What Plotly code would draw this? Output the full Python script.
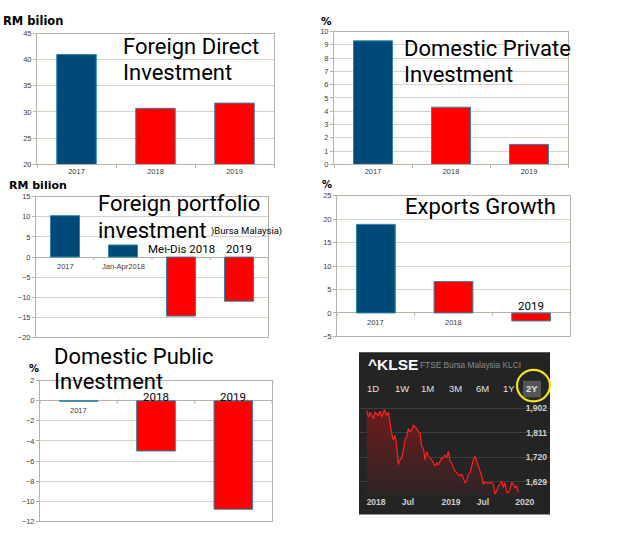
import plotly.graph_objects as go

W, H = 621, 545

# ---------------- data ----------------
fdi_years = ["2017", "2018", "2019"]
fdi_values = [41.0, 30.7, 31.7]

dpi_years = ["2017", "2018", "2019"]
dpi_values = [9.3, 4.3, 1.5]

fpi_periods = ["2017", "Jan-Apr2018", "Mei-Dis 2018", "2019"]
fpi_values = [10.3, 3.0, -14.7, -11.0]

exp_years = ["2017", "2018", "2019"]
exp_values = [18.9, 6.7, -1.7]

dpub_years = ["2017", "2018", "2019"]
dpub_values = [-0.05, -5.0, -10.8]

klse_dates = [
    "2018-01-02", "2018-01-10", "2018-01-18", "2018-02-03", "2018-02-11", "2018-02-27",
    "2018-03-07", "2018-03-15", "2018-03-28", "2018-04-08", "2018-04-16", "2018-04-24",
    "2018-05-02", "2018-05-10", "2018-05-18", "2018-05-26", "2018-06-03", "2018-06-11",
    "2018-06-19", "2018-06-27", "2018-07-05", "2018-07-13", "2018-07-21", "2018-07-29",
    "2018-08-06", "2018-08-14", "2018-08-22", "2018-08-30", "2018-09-07", "2018-09-15",
    "2018-09-23", "2018-10-01", "2018-10-09", "2018-10-17", "2018-10-25", "2018-11-02",
    "2018-11-10", "2018-11-26", "2018-12-04", "2018-12-12", "2018-12-28", "2019-01-05",
    "2019-01-13", "2019-01-21", "2019-01-29", "2019-02-06", "2019-02-14", "2019-03-02",
    "2019-03-10", "2019-03-26", "2019-04-03", "2019-04-11", "2019-04-19", "2019-04-27",
    "2019-05-05", "2019-05-13", "2019-05-21", "2019-05-29", "2019-06-06", "2019-06-14",
    "2019-06-22", "2019-06-30", "2019-07-08", "2019-07-16", "2019-07-24", "2019-08-09",
    "2019-08-25", "2019-09-02", "2019-09-10", "2019-09-18", "2019-09-26", "2019-10-04",
    "2019-10-12", "2019-10-20", "2019-10-28", "2019-11-05", "2019-11-13", "2019-11-21",
    "2019-11-29", "2019-12-07", "2019-12-15", "2019-12-23", "2019-12-31",
]
klse_values = [
    1893, 1869, 1887, 1863, 1887, 1875,
    1891, 1869, 1896, 1875, 1887, 1845,
    1809, 1784, 1802, 1760, 1693, 1711,
    1718, 1748, 1784, 1796, 1827, 1815,
    1821, 1839, 1833, 1827, 1815, 1809,
    1760, 1754, 1711, 1742, 1724, 1718,
    1711, 1687, 1699, 1693, 1718, 1718,
    1730, 1718, 1742, 1705, 1699, 1669,
    1663, 1651, 1657, 1645, 1627, 1633,
    1657, 1663, 1687, 1711, 1724, 1705,
    1687, 1669, 1651, 1620, 1627, 1624,
    1627, 1620, 1584, 1596, 1614, 1620,
    1633, 1608, 1627, 1590, 1590, 1602,
    1627, 1620, 1608, 1614, 1590,
]
klse_yticks = [1629, 1720, 1811, 1902]
klse_yticktext = ["1,629", "1,720", "1,811", "1,902"]
klse_xticks = ["2018-02-16", "2018-07-19", "2019-02-11", "2019-07-14", "2020-01-31"]
klse_xticktext = ["2018", "Jul", "2019", "Jul", "2020"]
klse_buttons = ["1D", "1W", "1M", "3M", "6M", "1Y", "2Y"]

# ---------------- helpers ----------------
def fx(px):
    return px / W

def fy(py):
    return 1 - py / H

BLUE = "#004a7a"
RED = "#ff0000"
EDGE = "#2f87a8"
GRID = "#d6d1c9"
FRAME = "#b8b1a6"
TICKC = "#3a3a3a"
TFONT = dict(family="Liberation Sans, Arial", size=7.5, color=TICKC)
TITLE_SIZE = 22

fig = go.Figure()

def bar_colors(vals, n_blue):
    return [BLUE if i < n_blue else RED for i in range(len(vals))]

panels = [
    # (cats, vals, n_blue, xpx, ypx, yrange, dtick, labels below zero, labels above zero, shift)
    (fdi_years, fdi_values, 1, (37, 274), (30, 163), [20, 45], 5, None, None, 0),
    (dpi_years, dpi_values, 1, (334, 568), (28, 163), [0, 10], 1, None, None, 0),
    (fpi_periods, fpi_values, 2, (36, 268), (196, 339), [-20, 15], 5,
     ["2017", "Jan-Apr2018"], ["Mei-Dis 2018", "2019"], -1),
    (exp_years, exp_values, 1, (337, 570), (195, 338), [-5, 25], 5,
     ["2017", "2018"], ["2019"], -2),
    (dpub_years, dpub_values, 1, (40, 272), (383, 526), [-12, 2], 2,
     ["2017"], ["2018", "2019"], -5),
]

layout_axes = {}
shapes = []
ann = []
for i, (cats, vals, nb, xp, yp, yr, dt, below, above, ysh) in enumerate(panels, start=1):
    xa = "x" if i == 1 else f"x{i}"
    ya = "y" if i == 1 else f"y{i}"
    fig.add_trace(go.Bar(
        x=cats, y=vals, xaxis=xa, yaxis=ya, width=0.5,
        marker=dict(color=bar_colors(vals, nb), line=dict(color=EDGE, width=1)),
        showlegend=False, hoverinfo="x+y",
    ))
    ydom = [fy(yp[1]), fy(yp[0])]
    xdom = [fx(xp[0]), fx(xp[1])]
    key_x = "xaxis" if i == 1 else f"xaxis{i}"
    key_y = "yaxis" if i == 1 else f"yaxis{i}"
    xaxis = dict(
        domain=xdom, anchor=ya, type="category", range=[-0.5, len(cats) - 0.5],
        showgrid=False, zeroline=False,
        showline=True, mirror=True, linecolor=FRAME, linewidth=1,
        tickfont=TFONT, fixedrange=True,
    )
    if below is None:
        xaxis.update(ticks="outside", tickson="boundaries", ticklen=3, tickcolor=FRAME)
    else:
        xaxis.update(ticks="", showticklabels=False)
    layout_axes[key_x] = xaxis
    layout_axes[key_y] = dict(
        domain=ydom, anchor=xa, range=yr, dtick=dt, tick0=yr[0],
        showgrid=True, gridcolor=GRID, gridwidth=1,
        zeroline=below is not None, zerolinecolor=FRAME, zerolinewidth=1,
        showline=True, linecolor=FRAME, mirror=True,
        ticks="outside", ticklen=3, tickcolor=FRAME, tickfont=TFONT, fixedrange=True,
    )
    if below is not None:
        # category boundary tick marks on the zero line
        for k in range(len(cats) + 1):
            shapes.append(dict(type="line", xref=xa, yref=ya, ysizemode="pixel",
                               yanchor=0, x0=k - 0.5, x1=k - 0.5, y0=0, y1=-3,
                               line=dict(color=FRAME, width=1)))
        for cat in below:
            ann.append(dict(x=cats.index(cat), y=0, xref=xa, yref=ya, text=cat,
                            showarrow=False, yanchor="top", yshift=-3, font=TFONT))
        for cat in above:
            ann.append(dict(x=cats.index(cat), y=0, xref=xa, yref=ya, text=cat,
                            showarrow=False, yanchor="bottom", yshift=ysh,
                            font=dict(size=11.5, color="#000", family="Roboto, Noto Sans")))

# ---------------- KLSE panel ----------------
box = (359, 354, 550, 519)
shapes.append(dict(type="rect", xref="paper", yref="paper",
                   x0=fx(box[0]), x1=fx(box[2]), y0=fy(box[3]), y1=fy(box[1]),
                   fillcolor="#242424", line=dict(width=0), layer="below"))

fig.add_trace(go.Scatter(
    x=klse_dates, y=klse_values, xaxis="x6", yaxis="y6", mode="lines",
    line=dict(color="#ff1f1f", width=1.2), fill="tozeroy",
    fillgradient=dict(type="vertical", start=1578, stop=1900,
                      colorscale=[[0, "#2b2525"], [1, "#701b1b"]]),
    showlegend=False, hoverinfo="x+y",
))
layout_axes["xaxis6"] = dict(
    domain=[fx(box[0]), fx(box[2])], anchor="y6", type="date",
    range=["2017-11-26", "2020-05-31"], showgrid=False, zeroline=False,
    showline=False, tickvals=klse_xticks, ticktext=klse_xticktext,
    tickfont=dict(family="Liberation Sans, Arial", size=8.5, color="#d0d0d0", weight="bold"),
    ticks="", fixedrange=True,
)
layout_axes["yaxis6"] = dict(
    domain=[fy(500), fy(400)], anchor="x6", side="right", range=[1578, 1942],
    tickvals=klse_yticks, ticktext=klse_yticktext, ticklabelposition="inside",
    showgrid=True, gridcolor="#3d3d3d", zeroline=False, showline=False,
    tickfont=dict(family="Liberation Sans, Arial", size=8.5, color="#d0d0d0", weight="bold"),
    fixedrange=True,
)

# 2Y highlighted button and yellow circle
shapes.append(dict(type="rect", xref="paper", yref="paper",
                   x0=fx(523), x1=fx(541), y0=fy(400), y1=fy(383),
                   fillcolor="#555555", line=dict(width=0)))
shapes.append(dict(type="circle", xref="paper", yref="paper",
                   x0=fx(517), x1=fx(550), y0=fy(404), y1=fy(372),
                   line=dict(color="#f2e51a", width=2.2)))

# ---------------- annotations ----------------
def text(px, py, s, size, color="#000", family="Roboto, Noto Sans", xanchor="left",
         yanchor="middle", weight="normal"):
    ann.append(dict(x=fx(px), y=fy(py), xref="paper", yref="paper", text=s,
                    showarrow=False, xanchor=xanchor, yanchor=yanchor,
                    font=dict(size=size, color=color, family=family, weight=weight)))

# unit labels
text(1, 17, "RM bilion", 11.5, family="DejaVu Sans", weight="bold")
text(319, 17, "%", 10.5, family="DejaVu Sans", weight="bold")
text(7, 185, "RM bilion", 11, family="DejaVu Sans", weight="bold")
text(320, 184, "%", 10, family="DejaVu Sans", weight="bold")
text(27, 371, "%", 10, family="DejaVu Sans", weight="bold")

# titles
text(121, 43, "Foreign Direct", TITLE_SIZE)
text(121, 70, "Investment", TITLE_SIZE)
text(402, 45, "Domestic Private", TITLE_SIZE)
text(402, 72, "Investment", TITLE_SIZE)
text(96, 203, "Foreign portfolio", TITLE_SIZE)
text(96, 230, "investment", TITLE_SIZE)
text(209, 231, ")Bursa Malaysia)", 9.5)
text(403, 206, "Exports Growth", TITLE_SIZE)
text(52, 358, "Domestic Public", TITLE_SIZE)
text(52, 384, "Investment", TITLE_SIZE)

# KLSE header texts
text(366, 367, "^KLSE", 15.5, color="#ffffff", family="Liberation Sans, Arial", weight="bold")
text(418, 367, "FTSE Bursa Malaysia KLCI", 8.3, color="#8a8a8a", family="Liberation Sans, Arial")
for lbl, bx in zip(klse_buttons, [373, 402, 428, 455, 482, 509, 532]):
    text(bx, 391, lbl, 9.5, color="#e0e0e0", family="Liberation Sans, Arial",
         xanchor="center", weight="bold" if lbl == "2Y" else "normal")

fig.update_layout(
    width=W, height=H, margin=dict(l=0, r=0, t=0, b=0),
    paper_bgcolor="#ffffff", plot_bgcolor="rgba(0,0,0,0)",
    annotations=ann, shapes=shapes,
    **layout_axes,
)

fig.write_html(
    "out.html",
    config={"displayModeBar": False},
    post_script="document.body.style.margin='0';document.body.style.overflow='hidden';",
)
